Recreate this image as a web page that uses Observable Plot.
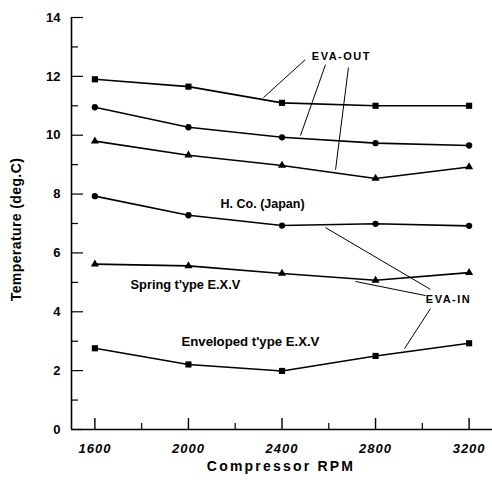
<!DOCTYPE html>
<html>
<head>
<meta charset="utf-8">
<script src="https://cdn.jsdelivr.net/npm/d3@7"></script>
<script src="https://cdn.jsdelivr.net/npm/@observablehq/plot@0.6"></script>
<style>
  html, body { margin: 0; padding: 0; background: #fff; }
  svg text { font-family: "Liberation Sans", Arial, sans-serif; }
</style>
</head>
<body>
<div id="chart"></div>
<script>
// ---- data ----
const rpm = [1600, 2000, 2400, 2800, 3200];
const evaOutSquare   = [11.9, 11.65, 11.1, 11.0, 11.0];
const evaOutCircle   = [10.95, 10.27, 9.93, 9.73, 9.65];
const evaOutTriangle = [9.8, 9.32, 8.97, 8.53, 8.92];
const hcoJapan       = [7.93, 7.28, 6.93, 6.99, 6.92];
const springType     = [5.62, 5.56, 5.3, 5.07, 5.33];
const envelopedType  = [2.76, 2.21, 1.99, 2.5, 2.93];

const seriesNames   = ["evaOutSquare", "evaOutCircle", "evaOutTriangle", "hcoJapan", "springType", "envelopedType"];
const seriesValues  = [evaOutSquare, evaOutCircle, evaOutTriangle, hcoJapan, springType, envelopedType];
const seriesSymbols = ["square", "circle", "triangle", "circle", "triangle", "square"];

const xMajorTicks = [1600, 2000, 2400, 2800, 3200];
const xMinorTicks = [1800, 2200, 2600, 3000];
const yMajorTicks = [0, 2, 4, 6, 8, 10, 12, 14];
const yMinorTicks = [1, 3, 5, 7, 9, 11, 13];

// annotation labels (data units)
const labelText = ["EVA-OUT", "EVA-IN", "H. Co. (Japan)", "Spring t'ype E.X.V", "Enveloped t'ype E.X.V"];
const labelX    = [2654, 3112, 2317, 1987, 2265];
const labelY    = [12.67, 4.42, 7.65, 4.93, 2.99];
// leader lines (data units)
const leaderX1 = [2500, 2586, 2684, 2586, 2714, 3035];
const leaderY1 = [12.57, 12.40, 12.30, 6.86, 5.03, 4.11];
const leaderX2 = [2321, 2479, 2629, 3035, 3014, 2924];
const leaderY2 = [11.28, 9.99, 8.83, 4.76, 4.55, 2.75];

// label styling (not data)
const labelStyle = {
  "EVA-OUT": {size: 11, spacing: 1.5},
  "EVA-IN": {size: 11, spacing: 1.5},
  "H. Co. (Japan)": {size: 12.5, spacing: 0},
  "Spring t'ype E.X.V": {size: 12.8, spacing: 0},
  "Enveloped t'ype E.X.V": {size: 13.2, spacing: 0}
};

// ---- build tables ----
const rows = [];
seriesNames.forEach((name, i) => {
  rpm.forEach((r, j) => rows.push({series: name, rpm: r, temp: seriesValues[i][j], symbol: seriesSymbols[i]}));
});
const labels = labelText.map((t, i) => ({text: t, x: labelX[i], y: labelY[i]}));
const leaders = leaderX1.map((x1, i) => ({x1, y1: leaderY1[i], x2: leaderX2[i], y2: leaderY2[i]}));

const xDomain = [1500, 3300];
const yDomain = [0, 14];
const marginLeft = 71, marginRight = 0, marginTop = 17, marginBottom = 55;
const W = 492, H = 484;
const pxPerX = (W - marginLeft - marginRight) / (xDomain[1] - xDomain[0]);
const pxPerY = (H - marginTop - marginBottom) / (yDomain[1] - yDomain[0]);
const xLen = px => px / pxPerX;
const yLen = px => px / pxPerY;

const plot = Plot.plot({
  width: W,
  height: H,
  marginLeft, marginRight, marginTop, marginBottom,
  x: {domain: xDomain, axis: null},
  y: {domain: yDomain, axis: null},
  style: {background: "#fff", color: "#000", fontFamily: "Liberation Sans, Arial, sans-serif"},
  marks: [
    // axis lines
    Plot.ruleY([0], {x1: xDomain[0], x2: xDomain[1], stroke: "#000", strokeWidth: 1.6}),
    Plot.ruleX([xDomain[0]], {y1: 0, y2: 14, stroke: "#000", strokeWidth: 1.6}),
    // x ticks (inward)
    Plot.ruleX(xMajorTicks, {y1: 0, y2: yLen(11), stroke: "#000", strokeWidth: 1.4}),
    Plot.ruleX(xMinorTicks, {y1: 0, y2: yLen(6), stroke: "#000", strokeWidth: 1.2}),
    // y ticks (inward)
    Plot.ruleY(yMajorTicks, {x1: xDomain[0], x2: xDomain[0] + xLen(12), stroke: "#000", strokeWidth: 1.2}),
    Plot.ruleY(yMinorTicks, {x1: xDomain[0], x2: xDomain[0] + xLen(7), stroke: "#000", strokeWidth: 1.2}),
    // tick labels
    Plot.text(xMajorTicks, {x: d => d, y: 0, dy: 19, text: d => String(d), fontSize: 13, fontWeight: "bold", fontStyle: "italic", fill: "#000"}),
    Plot.text(yMajorTicks, {x: xDomain[0], y: d => d, dx: -11, textAnchor: "end", text: d => String(d), fontSize: 13, fontWeight: "bold", fill: "#000"}),
    // axis titles
    Plot.text(["Temperature (deg.C)"], {frameAnchor: "left", textAnchor: "middle", dx: -55, dy: 6, rotate: -90, fontSize: 14, fontWeight: "bold", fill: "#000"}),
    Plot.text(["Compressor RPM"], {frameAnchor: "bottom", dx: -1, dy: 41, fontSize: 14, fontWeight: "bold", fill: "#000"}),
    // leaders
    Plot.link(leaders, {x1: "x1", y1: "y1", x2: "x2", y2: "y2", stroke: "#000", strokeWidth: 1}),
    // lines
    Plot.line(rows, {x: "rpm", y: "temp", z: "series", stroke: "#000", strokeWidth: 1.6}),
    // markers
    Plot.dot(rows, {x: "rpm", y: "temp", symbol: "symbol", fill: "#000", stroke: "none",
      r: d => d.symbol === "square" ? 4 : d.symbol === "circle" ? 3.3 : 3}),
    // annotation labels
    Plot.text(labels, {x: "x", y: "y", text: "text", fontSize: d => labelStyle[d.text].size, fontWeight: "bold", fill: "#000"})
  ],
  symbol: {type: "identity"}
});

// letter spacing tweaks
d3.select(plot).selectAll("text").each(function() {
  const t = this.textContent;
  if (t === "Temperature (deg.C)") this.style.letterSpacing = "0.4px";
  else if (t === "Compressor RPM") this.style.letterSpacing = "2.2px";
  else if (/^\d{4}$/.test(t)) this.style.letterSpacing = "1px";
  else if (labelStyle[t]) this.style.letterSpacing = labelStyle[t].spacing + "px";
});

document.getElementById("chart").appendChild(plot);
</script>
</body>
</html>
